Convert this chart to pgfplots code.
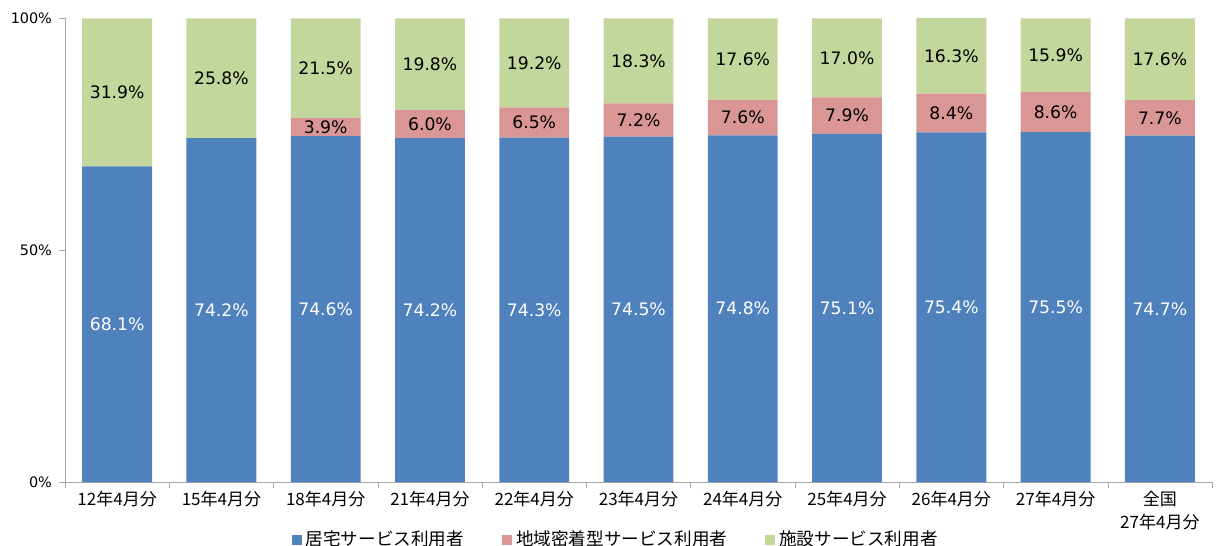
\documentclass[border=0pt]{standalone}
\usepackage{pgfplots}
\usepackage{pgfplotstable}
\pgfplotsset{compat=1.18}
\usepackage{fontspec}
\setmainfont{DejaVu Sans}
\newfontfamily\jp{Noto Sans CJK JP}
\definecolor{cblue}{HTML}{4F81BD}
\definecolor{cred}{HTML}{D99694}
\definecolor{cgreen}{HTML}{C3D69B}
\definecolor{axgray}{HTML}{A6A6A6}
\pgfplotstableread{
x blue red green
0 68.1 0 31.9
1 74.2 0 25.8
2 74.6 3.9 21.5
3 74.2 6.0 19.8
4 74.3 6.5 19.2
5 74.5 7.2 18.3
6 74.8 7.6 17.6
7 75.1 7.9 17.0
8 75.4 8.4 16.3
9 75.5 8.6 15.9
10 74.7 7.7 17.6
}\data
\begin{document}
\begin{tikzpicture}
\useasboundingbox (-32.5pt,-32pt) rectangle (578pt,241pt);
\begin{axis}[
  scale only axis, width=573.5pt, height=232pt,
  ybar stacked, bar width=0.67,
  xmin=-0.5, xmax=10.5, ymin=0, ymax=100.1,
  axis lines*=left,
  axis line style={axgray},
  xtick={0,...,10},
  xticklabels={12年4月分,15年4月分,18年4月分,21年4月分,22年4月分,23年4月分,24年4月分,25年4月分,26年4月分,27年4月分,{全国\\27年4月分}},
  x tick label style={font=\jp\fontsize{8.5}{11.5}\selectfont, align=center, anchor=north, yshift=2pt},
  major x tick style={draw=none},
  minor xtick={-0.5,0.5,...,10.5},
  minor x tick style={axgray},
  minor tick length=3pt,
  major tick length=3pt,
  tick align=outside,
  ytick={0,50,100},
  y tick style={axgray},
  yticklabel={\pgfmathprintnumber{\tick}\%},
  y tick label style={font=\fontsize{7.2}{9}\selectfont},
  /pgf/number format/assume math mode=true,
  visualization depends on={rawy \as \rawy},
  nodes near coords={\ifdim\rawy pt>0.05pt\pgfmathprintnumber[fixed,fixed zerofill,precision=1]{\rawy}\%\fi},
  every node near coord/.append style={font=\fontsize{8.6}{10}\selectfont, anchor=center},
  legend style={at={(0.481,-0.125)}, anchor=center, draw=none, legend columns=3,
    font=\jp\fontsize{8.8}{10}\selectfont,
    /tikz/every even column/.append style={column sep=17pt}},
  legend cell align=left,
  legend image code/.code={\fill[#1] (0pt,-2.5pt) rectangle (5pt,2.5pt);},
]
\addplot[fill=cblue, draw=none, every node near coord/.append style={text=white}] table[x=x,y=blue]{\data};
\addplot[fill=cred, draw=none] table[x=x,y=red]{\data};
\addplot[fill=cgreen, draw=none] table[x=x,y=green]{\data};
\legend{居宅サービス利用者,地域密着型サービス利用者,施設サービス利用者}
\end{axis}
\end{tikzpicture}
\end{document}
